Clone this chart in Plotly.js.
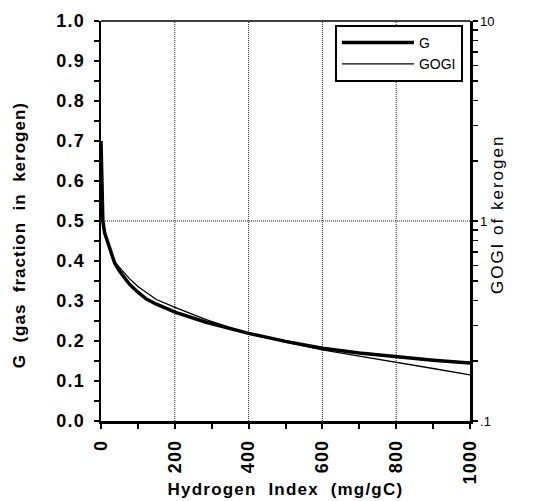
<!DOCTYPE html>
<html><head><meta charset="utf-8">
<script src="https://cdn.plot.ly/plotly-3.0.1.min.js"></script>
<style>
html,body{margin:0;padding:0;background:#fff}#chart{width:533px;height:501px}
.xtick text, .ytick text{letter-spacing:1.2px}
g.annotation[data-index="0"] text{letter-spacing:1.2px}
g.annotation[data-index="1"] text{letter-spacing:1.0px}
g.annotation[data-index="2"] text{letter-spacing:2px}
</style>
</head><body><div id="chart"></div>
<script>
// Hydrogen Index (mg/gC)
const hydrogenIndex = [0, 5, 10, 20, 37, 50, 77, 100, 123, 150, 204, 285, 367, 400, 500, 600, 700, 800, 900, 1000];
// G (gas fraction in kerogen)
const gValues = [0.70, 0.50, 0.47, 0.44, 0.395, 0.375, 0.342, 0.322, 0.305, 0.292, 0.271, 0.247, 0.226, 0.219, 0.199, 0.182, 0.17, 0.16, 0.152, 0.145];
// GOGI of kerogen (log scale)
const gogiValues = [2.29, 1.0, 0.871, 0.759, 0.625, 0.585, 0.515, 0.47, 0.437, 0.405, 0.368, 0.321, 0.286, 0.275, 0.248, 0.227, 0.211, 0.197, 0.183, 0.170];
// Axis ticks (labelled and unlabelled)
const xTickVals = [0, 100, 200, 300, 400, 500, 600, 700, 800, 900, 1000];
const xTickText = ['0', '', '200', '', '400', '', '600', '', '800', '', '1000'];
const yTickVals = [0, 0.05, 0.1, 0.15, 0.2, 0.25, 0.3, 0.35, 0.4, 0.45, 0.5, 0.55, 0.6, 0.65, 0.7, 0.75, 0.8, 0.85, 0.9, 0.95, 1.0];
const yTickText = ['0.0', '', '0.1', '', '0.2', '', '0.3', '', '0.4', '', '0.5', '', '0.6', '', '0.7', '', '0.8', '', '0.9', '', '1.0'];
const gogiTickVals = [0.1, 0.2, 0.3, 0.4, 0.5, 0.6, 0.7, 0.8, 0.9, 1, 2, 3, 4, 5, 6, 7, 8, 9, 10];
const gogiTickText = ['.1', '', '', '', '', '', '', '', '', '1', '', '', '', '', '', '', '', '', '10'];
const xGridVals = [200, 400, 600, 800];

const FAM = 'Liberation Sans, Arial, sans-serif';
const bold = {family: FAM, size: 18, color: '#000', weight: 'bold'};
const reg = {family: FAM, size: 13, color: '#000'};

const traces = [
  {x: hydrogenIndex, y: gValues, name: 'G', mode: 'lines', line: {color: '#000', width: 3.5}, yaxis: 'y'},
  {x: hydrogenIndex, y: gogiValues, name: 'GOGI', mode: 'lines', line: {color: '#000', width: 1.3}, yaxis: 'y2'}
];

const gridShapes = xGridVals.map(v => ({type: 'line', xref: 'x', yref: 'paper', x0: v, x1: v, y0: 0, y1: 1, layer: 'below',
  line: {color: '#222', width: 1, dash: '1px,1px'}}));

const layout = {
  width: 533, height: 501,
  margin: {l: 101, r: 63, t: 21, b: 80},
  paper_bgcolor: '#fff', plot_bgcolor: '#fff',
  showlegend: true,
  legend: {x: 0.634, y: 0.99, xanchor: 'left', yanchor: 'top', bgcolor: '#fff', bordercolor: '#000', borderwidth: 2,
           itemwidth: 72,
           font: {family: FAM, size: 14, color: '#000'}, tracegroupgap: 2},
  xaxis: {
    range: [0, 1000], tickmode: 'array', tickvals: xTickVals, ticktext: xTickText, tickangle: -90, tickfont: bold,
    showline: true, linewidth: 2.5, linecolor: '#000', mirror: false,
    ticks: 'outside', ticklen: 5, tickwidth: 2, tickcolor: '#000', ticklabelstandoff: 4,
    showgrid: false, zeroline: false
  },
  yaxis: {
    range: [0, 1], tickmode: 'array', tickvals: yTickVals, ticktext: yTickText, tickfont: bold,
    showline: true, linewidth: 2.5, linecolor: '#000',
    ticks: 'outside', ticklen: 5, tickwidth: 2, tickcolor: '#000', ticklabelstandoff: 5,
    showgrid: false, zeroline: false
  },
  yaxis2: {
    type: 'log', range: [-1, 1], overlaying: 'y', side: 'right',
    tickmode: 'array', tickvals: gogiTickVals, ticktext: gogiTickText, tickfont: reg,
    showline: true, linewidth: 2.5, linecolor: '#000',
    ticks: 'outside', ticklen: 5, tickwidth: 1.5, tickcolor: '#000',
    showgrid: false, zeroline: false
  },
  shapes: [
    {type: 'line', xref: 'paper', yref: 'paper', x0: 0, x1: 1, y0: 1, y1: 1, line: {color: '#000', width: 1.5}},
    {type: 'line', xref: 'paper', yref: 'y', x0: 0, x1: 1, y0: 0.5, y1: 0.5, layer: 'below', line: {color: '#222', width: 1, dash: '1px,1px'}}
  ].concat(gridShapes),
  annotations: [
    {text: 'Hydrogen\u00a0 Index\u00a0 (mg/gC)', xref: 'paper', yref: 'paper', x: 0.5007, y: -0.1725,
     xanchor: 'center', yanchor: 'middle', showarrow: false, font: {family: FAM, size: 17, color: '#000', weight: 'bold'}},
    {text: 'G\u00a0 (gas\u00a0 fraction\u00a0 in\u00a0 kerogen)', xref: 'paper', yref: 'paper', x: -0.2212, y: 0.464,
     xanchor: 'center', yanchor: 'middle', textangle: -90, showarrow: false, font: {family: FAM, size: 17, color: '#000', weight: 'bold'}},
    {text: 'GOGI of kerogen', xref: 'paper', yref: 'paper', x: 1.0733, y: 0.515,
     xanchor: 'center', yanchor: 'middle', textangle: -90, showarrow: false, font: {family: FAM, size: 17, color: '#000'}}
  ]
};

Plotly.newPlot('chart', traces, layout, {staticPlot: true, displayModeBar: false});
</script></body></html>
